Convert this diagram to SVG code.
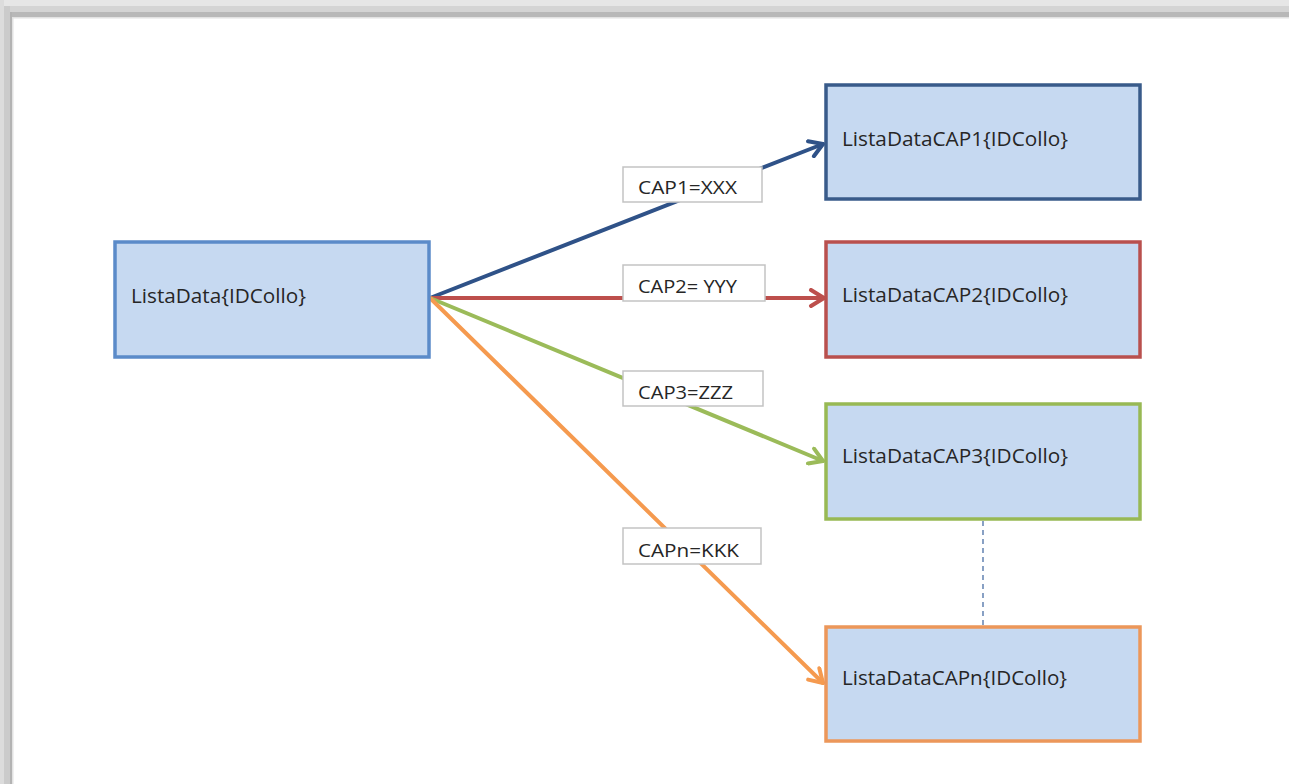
<svg xmlns="http://www.w3.org/2000/svg" width="1289" height="784" viewBox="0 0 1289 784">
<style>
.node{fill:#c6d9f1;stroke-width:3.5}
.ntext{font-family:"Open Sans","Liberation Sans",sans-serif;font-size:20px;fill:#262626}
.lbl{fill:#ffffff;stroke:#c3c3c3;stroke-width:1.5}
.ltext{font-family:"Open Sans","Liberation Sans",sans-serif;font-size:19px;fill:#262626}
.conn{fill:none;stroke-width:4;stroke-linecap:round}
</style>
<defs>
<marker id="mb" viewBox="0 0 20 20" markerWidth="20" markerHeight="20" refX="17" refY="10" orient="auto" markerUnits="userSpaceOnUse"><path d="M4,2 L17,10 L4,18" fill="none" stroke="#2f5288" stroke-width="4" stroke-linecap="round" stroke-linejoin="round"/></marker>
<marker id="mr" viewBox="0 0 20 20" markerWidth="20" markerHeight="20" refX="17" refY="10" orient="auto" markerUnits="userSpaceOnUse"><path d="M4,2 L17,10 L4,18" fill="none" stroke="#bd4f4c" stroke-width="4" stroke-linecap="round" stroke-linejoin="round"/></marker>
<marker id="mg" viewBox="0 0 20 20" markerWidth="20" markerHeight="20" refX="17" refY="10" orient="auto" markerUnits="userSpaceOnUse"><path d="M4,2 L17,10 L4,18" fill="none" stroke="#9bbb59" stroke-width="4" stroke-linecap="round" stroke-linejoin="round"/></marker>
<marker id="mo" viewBox="0 0 20 20" markerWidth="20" markerHeight="20" refX="17" refY="10" orient="auto" markerUnits="userSpaceOnUse"><path d="M4,2 L17,10 L4,18" fill="none" stroke="#f59a4f" stroke-width="4" stroke-linecap="round" stroke-linejoin="round"/></marker>
</defs>
<rect x="0" y="0" width="1289" height="784" fill="#ffffff"/>
<g id="frame">
<rect x="0" y="0" width="1289" height="6" fill="#e6e6e6"/>
<rect x="0" y="6" width="1289" height="6" fill="#d4d4d4"/>
<rect x="0" y="12" width="1289" height="5" fill="#b8b8b8"/>
<rect x="0" y="17" width="1289" height="1.5" fill="#e2e2e2"/>
<rect x="0" y="0" width="4" height="784" fill="#dcdcdc"/>
<rect x="4" y="6" width="6" height="778" fill="#cbcbcb"/>
<rect x="10" y="12" width="2" height="772" fill="#b3b3b3"/>
<rect x="12" y="17" width="1.5" height="767" fill="#e2e2e2"/>
</g>
<g id="connectors">
<line class="conn" x1="430" y1="298" x2="823" y2="144" stroke="#2f5288" marker-end="url(#mb)"/>
<line class="conn" x1="430" y1="298" x2="824" y2="298" stroke="#bd4f4c" marker-end="url(#mr)"/>
<line class="conn" x1="430" y1="298" x2="823" y2="461" stroke="#9bbb59" marker-end="url(#mg)"/>
<line class="conn" x1="430" y1="298" x2="823" y2="683" stroke="#f59a4f" marker-end="url(#mo)"/>
<line x1="983" y1="521" x2="983" y2="625" stroke="#4a6fa5" stroke-width="1.3" stroke-dasharray="5,4"/>
<g id="label1"><rect class="lbl" x="623" y="167" width="139" height="35"/><text class="ltext" x="638" y="194" textLength="99" lengthAdjust="spacingAndGlyphs">CAP1=XXX</text></g>
<g id="label2"><rect class="lbl" x="623" y="265" width="142" height="36"/><text class="ltext" x="638" y="293" textLength="99" lengthAdjust="spacingAndGlyphs">CAP2= YYY</text></g>
<g id="label3"><rect class="lbl" x="623" y="371" width="140" height="35"/><text class="ltext" x="638" y="399" textLength="95" lengthAdjust="spacingAndGlyphs">CAP3=ZZZ</text></g>
<g id="labeln"><rect class="lbl" x="623" y="528" width="138" height="36"/><text class="ltext" x="638" y="557" textLength="101" lengthAdjust="spacingAndGlyphs">CAPn=KKK</text></g>
</g>
<g id="node-listadata"><rect class="node" x="115" y="242" width="314" height="115" stroke="#5b8bc9"/><text class="ntext" x="131" y="303" textLength="175" lengthAdjust="spacingAndGlyphs">ListaData{IDCollo}</text></g>
<g id="node-cap1"><rect class="node" x="826" y="85" width="314" height="114" stroke="#395b8a"/><text class="ntext" x="842" y="146" textLength="226" lengthAdjust="spacingAndGlyphs">ListaDataCAP1{IDCollo}</text></g>
<g id="node-cap2"><rect class="node" x="826" y="242" width="314" height="115" stroke="#b9504e"/><text class="ntext" x="842" y="302" textLength="226" lengthAdjust="spacingAndGlyphs">ListaDataCAP2{IDCollo}</text></g>
<g id="node-cap3"><rect class="node" x="826" y="404" width="314" height="115" stroke="#98b954"/><text class="ntext" x="842" y="463" textLength="226" lengthAdjust="spacingAndGlyphs">ListaDataCAP3{IDCollo}</text></g>
<g id="node-capn"><rect class="node" x="826" y="627" width="314" height="114" stroke="#ec975a"/><text class="ntext" x="842" y="685" textLength="225" lengthAdjust="spacingAndGlyphs">ListaDataCAPn{IDCollo}</text></g>
</svg>
